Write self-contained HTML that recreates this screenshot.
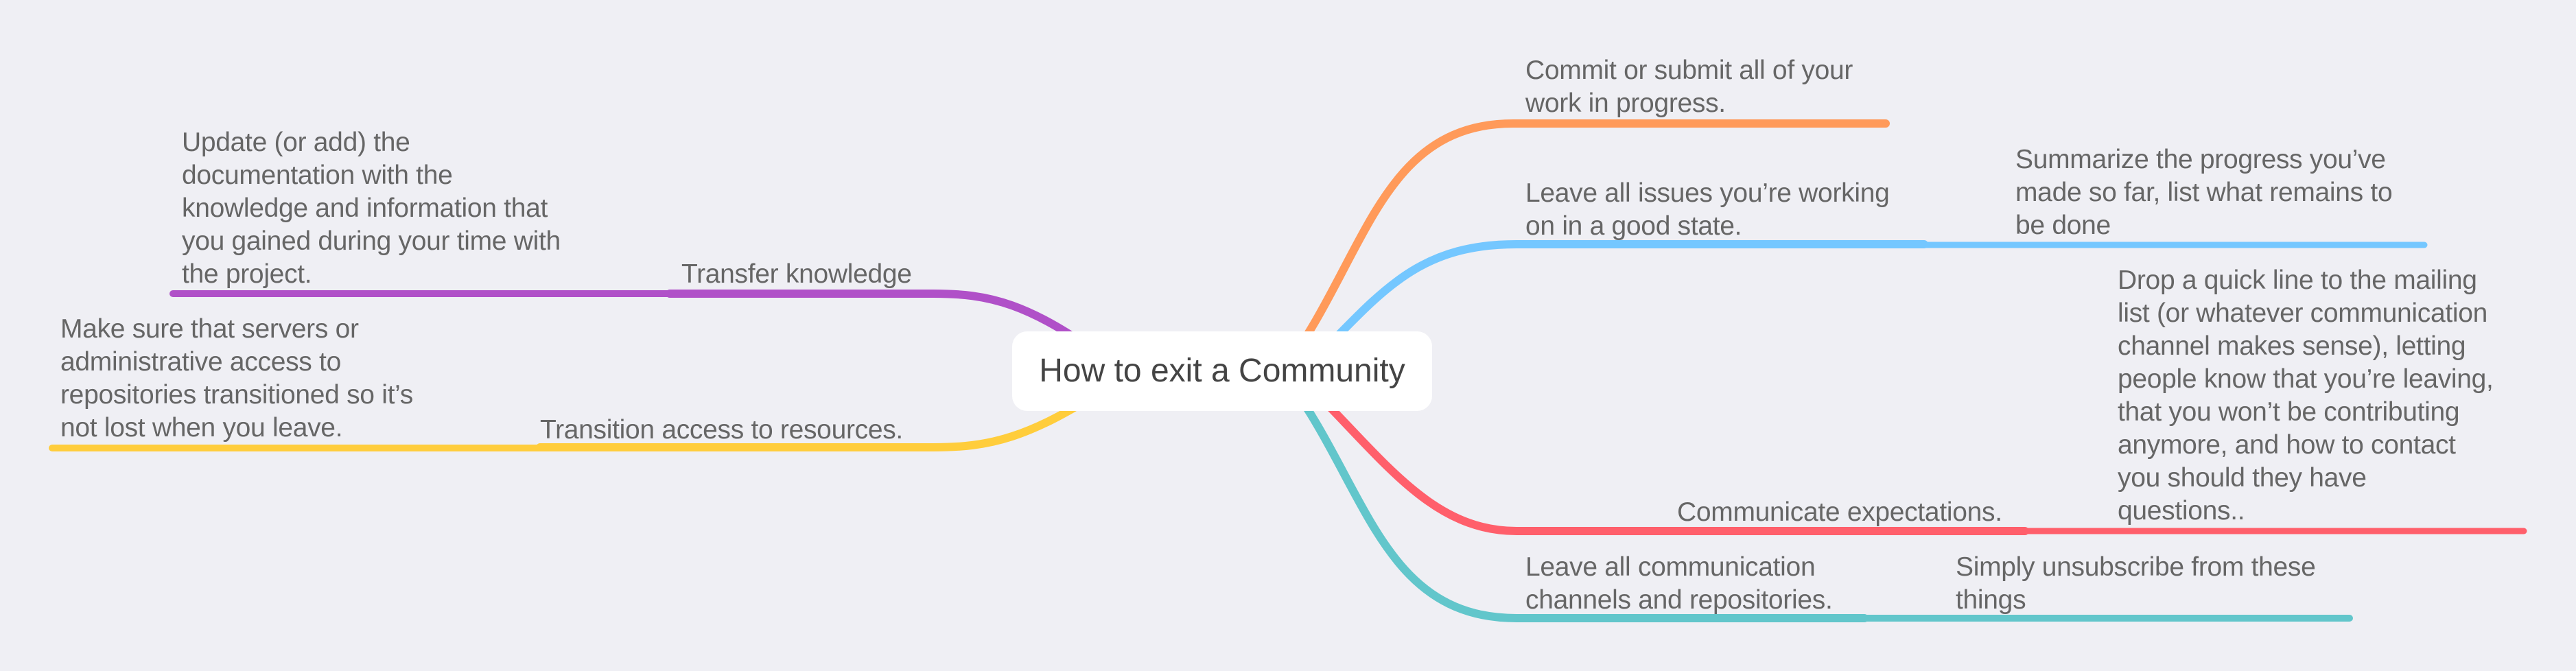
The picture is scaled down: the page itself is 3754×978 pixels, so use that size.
<!DOCTYPE html>
<html><head><meta charset="utf-8"><style>
html,body{margin:0;padding:0}
body{width:3754px;height:978px;background:#efeff4;position:relative;overflow:hidden;font-family:"Liberation Sans",sans-serif}
.t{position:absolute;color:#666;font-size:39px;line-height:48px;white-space:nowrap;letter-spacing:-0.3px}
svg{position:absolute;left:0;top:0}
.c{position:absolute;left:1475px;top:483px;width:612px;height:116px;background:#fff;border-radius:22px;color:#444;font-size:48px;line-height:116px;text-align:center}
</style></head><body>
<svg width="3754" height="978" fill="none" stroke-linecap="round">
<path d="M1620,530 C1500,440 1440,428 1360,428 L976,428" stroke="#b050c8" stroke-width="12"/>
<path d="M976,428 L252,428" stroke="#b050c8" stroke-width="10"/>
<path d="M1620,560 C1500,640 1440,652 1360,652 L787,652" stroke="#ffcd3c" stroke-width="12"/>
<path d="M787,653 L76,653" stroke="#ffcd3c" stroke-width="10"/>
<path d="M1870,540 C1990,380 2010,180 2205,180 L2748,180" stroke="#ff9a5a" stroke-width="12"/>
<path d="M1900,540 C2010,430 2060,356 2210,356 L2804,356" stroke="#74c7ff" stroke-width="12"/>
<path d="M2804,357 L3533,357" stroke="#74c7ff" stroke-width="9"/>
<path d="M1890,545 C2010,660 2080,774 2210,774 L2951,774" stroke="#ff5f6b" stroke-width="12"/>
<path d="M2951,774 L3678,774" stroke="#ff5f6b" stroke-width="9"/>
<path d="M1870,545 C1990,700 2010,901 2210,901 L2717,901" stroke="#62c6cb" stroke-width="12"/>
<path d="M2717,901 L3424,901" stroke="#62c6cb" stroke-width="10"/>
</svg>
<div class="c">How to exit a Community</div>
<div class="t" style="left:265px;top:184px">Update (or add) the<br>documentation with the<br>knowledge and information that<br>you gained during your time with<br>the project.</div>
<div class="t" style="left:993px;top:376px">Transfer knowledge</div>
<div class="t" style="left:88px;top:456px">Make sure that servers or<br>administrative access to<br>repositories transitioned so it’s<br>not lost when you leave.</div>
<div class="t" style="left:787px;top:603px">Transition access to resources.</div>
<div class="t" style="left:2223px;top:79px">Commit or submit all of your<br>work in progress.</div>
<div class="t" style="left:2223px;top:258px">Leave all issues you’re working<br>on in a good state.</div>
<div class="t" style="left:2937px;top:209px">Summarize the progress you’ve<br>made so far, list what remains to<br>be done</div>
<div class="t" style="left:3086px;top:385px">Drop a quick line to the mailing<br>list (or whatever communication<br>channel makes sense), letting<br>people know that you’re leaving,<br>that you won’t be contributing<br>anymore, and how to contact<br>you should they have<br>questions..</div>
<div class="t" style="left:2444px;top:723px">Communicate expectations.</div>
<div class="t" style="left:2223px;top:803px">Leave all communication<br>channels and repositories.</div>
<div class="t" style="left:2850px;top:803px">Simply unsubscribe from these<br>things</div>
</body></html>
